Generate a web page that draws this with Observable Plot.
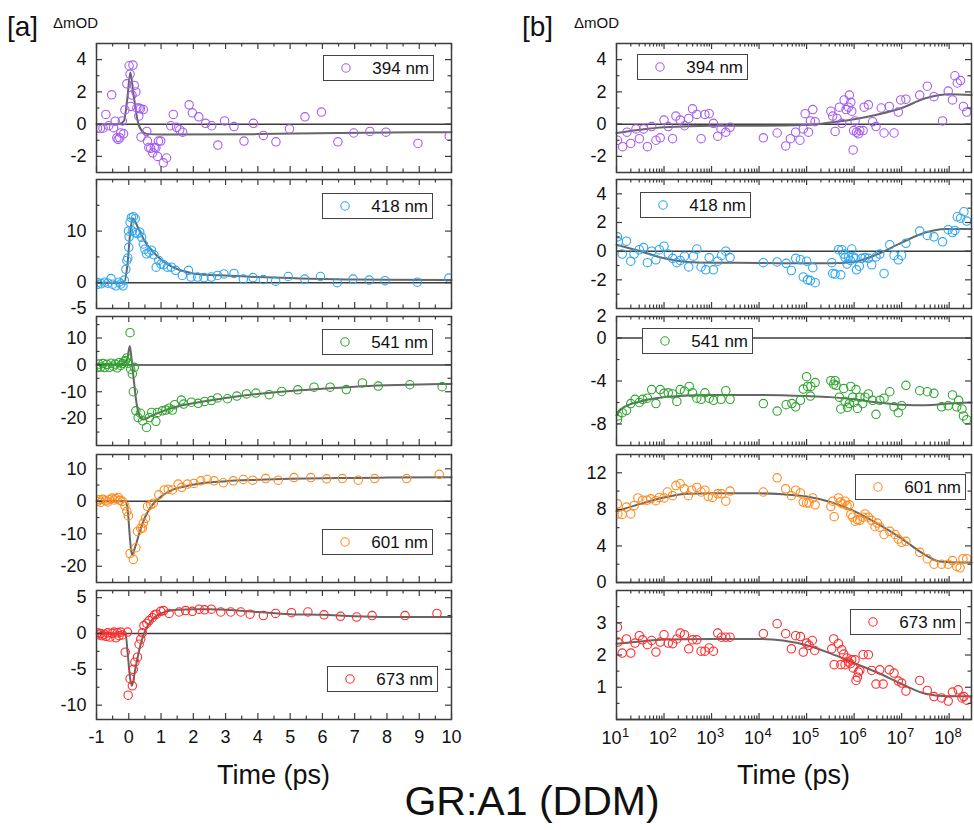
<!DOCTYPE html>
<html><head><meta charset="utf-8">
<script src="https://cdn.jsdelivr.net/npm/d3@7"></script>
<script src="https://cdn.jsdelivr.net/npm/@observablehq/plot@0.6"></script>
<style>
body{margin:0;background:#fff;}
#wrap{position:relative;width:974px;height:830px;font-family:"Liberation Sans",Arial,sans-serif;color:#111;overflow:hidden;background:#fff}
.abs{position:absolute;white-space:nowrap;line-height:1}
.leg{position:absolute;box-sizing:border-box;border:1.5px solid #444;background:#fff;width:111px;height:26px}
.leg span{position:absolute;right:4px;top:50%;transform:translateY(-50%);font-size:17px;line-height:1}
.leg svg{position:absolute;left:16px;top:50%;transform:translateY(-50%)}
svg.panel{position:absolute;overflow:visible}
</style></head><body><div id="wrap"></div><script>
// ---------- data: [a] linear time (ps), [t, ΔmOD] ----------
const a394 = [[-0.97,-0.25],[-0.88,-0.27],[-0.8,-0.25],[-0.71,0.6],[-0.62,-0.1],[-0.53,1.82],[-0.47,-0.22],[-0.42,0.18],[-0.37,-0.85],[-0.33,-0.95],[-0.28,-0.85],[-0.25,-0.55],[-0.2,0.2],[-0.16,-0.6],[-0.12,0.88],[-0.06,2.5],[0.01,3.62],[0.04,3.1],[0.1,1.8],[0.13,3.66],[0.06,1.1],[0.17,2.4],[0.22,2.0],[0.25,1.0],[0.31,0.5],[0.36,0.95],[0.32,1.0],[0.38,-0.8],[0.45,0.9],[0.56,-0.45],[0.58,-1.05],[0.62,-1.45],[0.68,-1.5],[0.74,-1.78],[0.79,-1.45],[0.84,-1.47],[0.89,-2.0],[0.92,-1.05],[0.99,-1.05],[1.07,-2.4],[1.17,-2.1],[1.3,-0.1],[1.38,0.6],[1.48,-0.2],[1.58,-0.35],[1.67,-0.5],[1.87,1.2],[1.97,0.7],[2.17,0.45],[2.38,0.05],[2.57,-0.1],[2.76,-1.3],[2.97,0.2],[3.26,-0.15],[3.57,-1.05],[3.86,0.05],[4.17,-0.7],[4.56,-1.1],[4.98,-0.3],[5.46,0.45],[5.97,0.75],[6.48,-1.1],[6.97,-0.55],[7.47,-0.45],[7.97,-0.5],[8.96,-1.2],[9.93,-0.75]];
const a418 = [[-0.97,0.06],[-0.95,-0.3],[-0.85,-0.2],[-0.75,0.1],[-0.65,-0.1],[-0.55,0.8],[-0.5,-0.3],[-0.4,-0.6],[-0.3,0.1],[-0.25,-0.25],[-0.18,-0.6],[-0.14,0.5],[-0.09,2.6],[-0.06,4.3],[-0.03,4.8],[0.0,6.85],[0.01,8.9],[-0.01,10.0],[0.04,11.7],[0.08,12.6],[0.14,12.8],[0.2,12.4],[0.11,10.0],[0.2,9.7],[0.27,9.5],[0.34,9.8],[0.4,8.8],[0.45,7.5],[0.5,6.5],[0.55,5.6],[0.63,5.9],[0.7,6.3],[0.78,5.4],[0.85,3.0],[0.93,4.3],[1.0,3.6],[1.08,3.5],[1.2,3.0],[1.32,3.0],[1.45,2.4],[1.66,1.4],[1.85,2.4],[1.93,1.1],[2.13,1.1],[2.33,1.0],[2.56,1.1],[2.75,1.4],[2.95,1.7],[3.26,1.8],[3.55,0.7],[3.85,1.0],[4.17,0.6],[4.55,0.3],[4.94,1.2],[5.45,0.7],[5.94,1.2],[6.46,0.0],[6.95,0.7],[7.45,0.5],[7.94,0.4],[8.94,0.1],[9.92,0.9]];
const a541 = [[-0.97,-1.0],[-0.93,0.3],[-0.87,-0.8],[-0.8,0.5],[-0.75,-1.0],[-0.68,0.2],[-0.6,-0.9],[-0.55,0.6],[-0.48,-0.5],[-0.42,0.3],[-0.36,-1.1],[-0.3,0.8],[-0.25,-0.2],[-0.2,0.5],[-0.15,1.2],[-0.1,1.6],[-0.06,2.6],[-0.02,0.6],[0.04,12.0],[0.06,-1.6],[0.11,-3.4],[0.17,-0.9],[0.14,-10.0],[0.22,-17.1],[0.29,-19.6],[0.36,-18.0],[0.43,-20.8],[0.55,-23.3],[0.64,-19.6],[0.71,-17.7],[0.84,-21.0],[0.89,-17.7],[1.04,-17.1],[1.15,-16.8],[1.25,-16.1],[1.35,-16.8],[1.42,-14.8],[1.63,-13.1],[1.7,-14.6],[1.94,-13.9],[2.15,-14.3],[2.35,-13.6],[2.56,-13.3],[2.75,-12.3],[3.06,-12.6],[3.35,-11.6],[3.65,-10.8],[3.94,-10.5],[4.35,-11.1],[4.74,-9.9],[5.24,-9.3],[5.74,-8.3],[6.24,-8.3],[6.74,-9.2],[7.24,-6.7],[7.73,-7.9],[8.71,-7.4],[9.71,-8.1]];
const a601 = [[-0.97,0.0],[-0.92,0.5],[-0.87,-0.3],[-0.8,0.6],[-0.72,0.2],[-0.65,-0.2],[-0.6,0.5],[-0.52,1.0],[-0.45,0.4],[-0.4,0.8],[-0.33,1.2],[-0.27,0.3],[-0.2,0.0],[-0.12,-1.4],[-0.06,-3.1],[-0.01,-4.5],[0.04,-16.1],[0.14,-17.9],[0.22,-14.3],[0.27,-9.3],[0.37,-8.3],[0.42,-8.3],[0.45,-6.7],[0.52,-5.2],[0.58,-1.6],[0.68,-1.1],[0.76,-0.6],[0.93,2.0],[1.1,3.5],[1.22,3.7],[1.35,3.5],[1.53,5.3],[1.64,4.3],[1.82,5.3],[2.02,5.5],[2.23,6.3],[2.43,6.7],[2.64,6.3],[2.93,5.7],[3.24,6.3],[3.55,6.7],[3.84,6.5],[4.24,7.0],[4.63,6.5],[5.12,7.3],[5.64,7.3],[6.13,6.9],[6.62,7.0],[7.11,6.5],[7.62,7.0],[8.61,7.0],[9.62,8.3]];
const a673 = [[-0.97,0.1],[-0.92,-0.2],[-0.87,0.0],[-0.82,-0.3],[-0.76,-0.1],[-0.7,-0.4],[-0.65,0.1],[-0.58,-0.5],[-0.52,0.0],[-0.46,0.2],[-0.4,-0.6],[-0.35,0.1],[-0.3,-0.3],[-0.25,0.2],[-0.2,-0.2],[-0.04,0.2],[-0.11,-2.6],[-0.02,-8.6],[0.04,-6.3],[0.11,-7.3],[0.14,-5.0],[0.19,-4.0],[0.27,-3.3],[0.32,-1.5],[0.37,-0.8],[0.42,0.1],[0.47,1.1],[0.56,1.4],[0.63,1.8],[0.73,2.2],[0.8,2.6],[0.86,2.7],[0.99,3.1],[1.08,3.2],[1.25,2.8],[1.56,3.0],[1.76,3.2],[1.97,3.1],[2.18,3.4],[2.35,3.3],[2.56,3.4],[2.85,3.0],[3.16,3.0],[3.47,3.0],[3.76,2.7],[4.17,2.5],[4.55,2.8],[5.04,2.9],[5.55,3.0],[6.05,2.6],[6.56,2.4],[7.06,2.3],[7.54,2.5],[8.56,2.5],[9.55,2.8]];
// fits [a]
const fa394 = [[-1,0],[-0.3,0],[-0.15,0.2],[-0.05,1.5],[0.05,3.2],[0.15,1.8],[0.3,0.0],[0.45,-0.5],[0.6,-0.62],[1,-0.65],[4,-0.62],[6.5,-0.55],[10,-0.5]];
const fa418 = [[-1,0],[-0.15,0],[-0.05,3],[0.05,10],[0.12,12.5],[0.3,10.5],[0.5,8],[0.75,6],[1,4.5],[1.3,3.2],[1.6,2.4],[2,1.8],[2.5,1.5],[3,1.4],[4,1.1],[5,0.9],[6,0.7],[7,0.6],[8,0.55],[10,0.5]];
const fa541 = [[-1,0],[-0.2,0.3],[-0.05,2],[0.03,7],[0.08,3],[0.15,-5],[0.25,-15],[0.35,-19.5],[0.45,-20.3],[0.7,-19],[1,-17.5],[1.5,-15.5],[2,-14.3],[3,-12.3],[4,-10.8],[5,-9.7],[6,-8.9],[7,-8.1],[8,-7.6],[9,-7.3],[10,-7.1]];
const fa601 = [[-1,0],[-0.1,0],[-0.03,-3],[0.05,-13],[0.1,-16.5],[0.2,-14],[0.35,-9],[0.5,-5],[0.7,-1.5],[1,1.5],[1.3,3.3],[1.7,4.5],[2.2,5.5],[3,6.2],[4,6.6],[5,6.9],[6,7.1],[7,7.2],[8,7.3],[10,7.4]];
const fa673 = [[-1,0],[-0.1,0],[-0.03,-3],[0.05,-6.5],[0.1,-7.3],[0.2,-5],[0.35,-1.8],[0.5,0.3],[0.7,1.8],[1,2.8],[1.5,3.3],[2,3.4],[2.5,3.4],[3,3.3],[4,3.0],[5,2.7],[6,2.6],[7,2.4],[8,2.3],[10,2.3]];

// ---------- data: [b] log time, [log10(t/ps), ΔmOD] ----------
const b394 = [[1.02,-1.0],[1.13,-1.4],[1.22,-0.5],[1.3,-1.2],[1.41,-0.3],[1.48,-0.9],[1.57,-0.3],[1.65,-1.4],[1.74,-0.15],[1.83,-1.0],[1.92,-0.85],[2.0,0.25],[2.09,-0.15],[2.18,-0.9],[2.25,0.5],[2.34,0.25],[2.43,-0.1],[2.52,0.35],[2.6,0.95],[2.69,0.6],[2.78,-0.9],[2.86,0.6],[2.95,0.65],[3.04,0.05],[3.13,-0.75],[3.2,-0.3],[3.3,-0.5],[3.39,-0.2],[4.09,-0.85],[4.38,-0.55],[4.56,-1.35],[4.66,-0.9],[4.77,-0.5],[4.86,-1.0],[4.93,-0.3],[4.97,0.65],[5.04,-0.5],[5.08,0.2],[5.13,0.9],[5.18,0.15],[5.51,0.8],[5.55,0.5],[5.6,-0.45],[5.64,0.35],[5.69,1.05],[5.74,0.05],[5.79,1.5],[5.83,0.9],[5.88,1.05],[5.9,1.8],[5.93,1.35],[5.95,0.8],[5.98,-1.6],[5.99,-0.4],[6.02,0.2],[6.05,-0.5],[6.09,-0.6],[6.12,-0.4],[6.19,-0.4],[6.21,1.05],[6.3,1.2],[6.39,0.15],[6.46,-0.15],[6.57,1.0],[6.63,-0.55],[6.74,1.1],[6.84,-0.55],[6.93,0.75],[6.98,1.5],[7.09,1.55],[7.38,1.8],[7.54,2.35],[7.68,1.7],[7.86,0.2],[7.98,2.05],[8.07,1.5],[8.12,3.0],[8.17,2.55],[8.24,2.7],[8.3,1.1],[8.37,0.75]];
const b418 = [[1.02,1.0],[1.04,0.65],[1.12,-0.2],[1.21,0.7],[1.3,-0.7],[1.37,-0.2],[1.48,0.1],[1.57,0.25],[1.65,-0.8],[1.74,0],[1.83,-0.6],[1.9,0.1],[2.0,0.35],[2.09,-0.2],[2.18,-0.5],[2.27,-0.8],[2.34,-0.65],[2.43,-0.35],[2.52,-1.1],[2.62,-0.35],[2.69,0.15],[2.78,-1.1],[2.88,-1.3],[2.95,-0.45],[3.04,-1.3],[3.13,-0.7],[3.21,-0.3],[3.3,0],[3.39,-0.45],[4.09,-0.8],[4.38,-0.75],[4.57,-0.85],[4.68,-1.35],[4.77,-0.5],[4.87,-0.6],[4.93,-1.8],[5.0,-0.7],[5.02,-2.0],[5.08,-2.05],[5.13,-1.15],[5.18,-2.2],[5.53,-0.8],[5.55,-1.55],[5.6,-1.6],[5.67,0.1],[5.72,-1.65],[5.74,0.1],[5.78,-0.2],[5.81,-0.45],[5.85,-0.9],[5.88,-0.4],[5.92,-0.65],[5.95,0.15],[5.98,-0.4],[6.02,-0.5],[6.05,-1.3],[6.11,-1.05],[6.16,-0.5],[6.23,-0.45],[6.3,-0.5],[6.37,-0.95],[6.46,-0.4],[6.54,-0.2],[6.63,-1.55],[6.75,0.45],[6.84,-0.3],[6.93,-0.6],[7.0,-0.3],[7.09,0.55],[7.38,1.4],[7.54,1.1],[7.68,1.0],[7.86,0.65],[7.98,1.5],[8.07,1.3],[8.12,1.45],[8.17,2.4],[8.24,2.3],[8.31,2.75],[8.37,2.1]];
const b541 = [[1.02,-7.6],[1.03,-7.25],[1.12,-6.95],[1.21,-6.75],[1.3,-6.1],[1.39,-5.7],[1.48,-6.0],[1.55,-5.7],[1.65,-5.6],[1.74,-4.8],[1.83,-6.1],[1.92,-4.8],[2.0,-5.15],[2.09,-5.1],[2.18,-5.2],[2.27,-5.9],[2.34,-4.8],[2.43,-4.95],[2.53,-4.5],[2.6,-5.1],[2.69,-5.6],[2.78,-5.7],[2.86,-5.1],[2.95,-5.6],[3.04,-5.8],[3.2,-5.7],[3.3,-4.9],[3.39,-5.7],[4.09,-6.1],[4.38,-6.8],[4.57,-6.2],[4.69,-6.1],[4.77,-6.4],[4.87,-5.8],[4.93,-4.75],[5.0,-3.6],[5.02,-4.5],[5.08,-5.4],[5.09,-4.5],[5.18,-4.15],[5.51,-3.97],[5.57,-4.3],[5.6,-3.97],[5.62,-4.4],[5.69,-5.5],[5.72,-6.6],[5.78,-4.7],[5.81,-5.9],[5.86,-6.45],[5.9,-6.1],[5.93,-4.5],[5.97,-5.5],[6.0,-6.0],[6.04,-4.8],[6.07,-6.55],[6.12,-5.5],[6.18,-6.1],[6.23,-5.5],[6.3,-5.2],[6.39,-5.8],[6.46,-7.1],[6.54,-5.8],[6.63,-5.6],[6.75,-5.0],[6.84,-6.4],[6.93,-6.95],[7.0,-6.3],[7.09,-4.4],[7.38,-4.9],[7.54,-5.0],[7.68,-5.15],[7.84,-6.4],[7.98,-6.3],[8.07,-5.3],[8.16,-6.4],[8.2,-5.8],[8.27,-6.6],[8.3,-7.25],[8.37,-7.6]];
const b601 = [[1.02,8.6],[1.03,7.5],[1.12,7.45],[1.21,8.25],[1.3,7.5],[1.37,8.4],[1.45,9.25],[1.55,9.0],[1.64,9.0],[1.72,9.15],[1.83,8.95],[1.9,9.3],[2.0,9.25],[2.07,9.9],[2.18,9.5],[2.25,10.6],[2.34,10.8],[2.43,10.25],[2.51,9.5],[2.58,10.1],[2.69,10.4],[2.78,9.9],[2.86,10.1],[2.93,9.4],[3.02,9.3],[3.13,9.7],[3.21,9.7],[3.3,8.9],[3.39,10.0],[4.09,9.9],[4.38,11.45],[4.56,10.25],[4.68,9.5],[4.77,10.1],[4.87,9.8],[4.93,8.8],[5.0,8.7],[5.05,8.7],[5.13,9.25],[5.18,8.5],[5.51,8.3],[5.55,8.9],[5.58,7.2],[5.67,9.25],[5.71,8.8],[5.76,8.6],[5.81,8.9],[5.85,8.4],[5.9,8.5],[5.93,7.45],[5.97,7.15],[6.02,6.7],[6.07,6.85],[6.12,6.8],[6.19,7.15],[6.23,7.5],[6.3,7.15],[6.37,6.8],[6.44,6.1],[6.49,6.5],[6.54,6.05],[6.63,5.25],[6.75,5.6],[6.86,5.25],[6.93,4.75],[7.0,4.4],[7.09,4.5],[7.38,3.3],[7.54,2.6],[7.68,2.0],[7.84,2.0],[7.98,2.0],[8.07,2.4],[8.16,1.75],[8.23,1.6],[8.29,2.6],[8.37,2.6]];
const b673 = [[1.02,2.86],[1.03,2.4],[1.12,2.06],[1.21,2.5],[1.3,2.06],[1.39,2.37],[1.48,2.6],[1.55,2.47],[1.65,2.32],[1.74,2.45],[1.83,2.09],[1.92,2.4],[2.0,2.63],[2.09,2.37],[2.18,2.35],[2.27,2.5],[2.34,2.68],[2.43,2.63],[2.52,2.19],[2.6,2.47],[2.69,2.47],[2.78,2.12],[2.86,2.12],[2.95,2.22],[3.04,2.12],[3.13,2.68],[3.21,2.55],[3.3,2.55],[3.39,2.55],[4.09,2.66],[4.38,2.97],[4.56,2.66],[4.68,2.19],[4.77,2.6],[4.87,2.57],[4.93,2.09],[5.0,2.37],[5.05,2.3],[5.12,2.45],[5.17,2.14],[5.53,2.19],[5.57,2.5],[5.58,1.7],[5.67,2.35],[5.72,1.7],[5.74,2.16],[5.78,2.03],[5.81,1.7],[5.85,1.91],[5.88,1.78],[5.92,1.73],[5.95,1.85],[5.98,1.6],[6.02,1.85],[6.04,1.21],[6.07,1.31],[6.09,1.47],[6.12,1.52],[6.19,2.01],[6.3,2.01],[6.37,1.52],[6.46,1.1],[6.54,1.54],[6.61,1.1],[6.74,1.54],[6.84,1.44],[6.93,1.19],[7.0,1.13],[7.09,0.88],[7.38,1.21],[7.54,0.9],[7.68,0.71],[7.84,0.67],[7.98,0.57],[8.07,0.85],[8.19,0.92],[8.27,0.67],[8.31,0.71],[8.37,0.6]];
// fits [b]
const fb394 = [[1,-0.55],[1.5,-0.35],[2,-0.2],[3,-0.1],[4,-0.1],[5,-0.05],[5.5,0.1],[6,0.3],[6.5,0.6],[7,1.0],[7.5,1.6],[8,1.85],[8.47,1.8]];
const fb418 = [[1,0.45],[1.5,0],[2,-0.5],[2.5,-0.75],[3,-0.8],[4,-0.82],[5,-0.85],[5.5,-0.85],[6,-0.75],[6.5,-0.2],[7,0.6],[7.5,1.3],[7.9,1.55],[8.47,1.55]];
const fb541 = [[1,-7.2],[1.1,-6.6],[1.5,-5.9],[2,-5.5],[2.5,-5.35],[3,-5.3],[4,-5.3],[5,-5.4],[5.5,-5.5],[6,-5.7],[6.5,-6.0],[7,-6.2],[7.5,-6.25],[8,-6.1],[8.47,-6.0]];
const fb601 = [[1,7.8],[1.5,8.6],[2,9.3],[2.5,9.7],[3,9.75],[4,9.75],[4.5,9.65],[5,9.4],[5.5,8.8],[6,7.8],[6.5,6.4],[7,4.8],[7.5,3.0],[7.8,2.3],[8.2,2.2],[8.47,2.2]];
const fb673 = [[1,2.35],[1.5,2.42],[2,2.48],[3,2.5],[4,2.5],[4.5,2.45],[5,2.3],[5.5,2.05],[6,1.75],[6.5,1.45],[7,1.1],[7.5,0.8],[8,0.72],[8.47,0.72]];

// ---------- labels / ticks ----------
const wavelengths = ["394 nm","418 nm","541 nm","601 nm","673 nm"];
const colors = ["#a55cf2","#2ea6f0","#2fa52f","#ff8a1c","#ff2b2b"];
const aTicks = [-1,0,1,2,3,4,5,6,7,8,9,10];
const aMinor = [-0.5,0.5,1.5,2.5,3.5,4.5,5.5,6.5,7.5,8.5,9.5];
const bTicks = [1e1,1e2,1e3,1e4,1e5,1e6,1e7,1e8];
const bMinor = bTicks.flatMap(d => [2,3,4,5,6,7,8,9].map(m => m*d)).filter(v => v < 2.95e8);
const aY = [
  {domain:[-3,5], labels:[-2,0,2,4], major:[-2,0,2,4], minor:[-1,1,3]},
  {domain:[-5,20], labels:[-5,0,10], major:[0,10], minor:[5,15]},
  {domain:[-30,18], labels:[-20,-10,0,10], major:[-20,-10,0,10], minor:[-25,-15,-5,5,15]},
  {domain:[-25,14.4], labels:[-20,-10,0,10], major:[-20,-10,0,10], minor:[-15,-5,5]},
  {domain:[-12,6], labels:[-10,-5,0,5], major:[-10,-5,0,5], minor:[-7.5,-2.5,2.5]}
];
const bY = [
  {domain:[-3,5], labels:[-2,0,2,4], major:[-2,0,2,4], minor:[-1,1,3]},
  {domain:[-4,5], labels:[-2,0,2,4], major:[-2,0,2,4], minor:[-3,-1,1,3]},
  {domain:[-10,2], labels:[-8,-4,0,2], major:[-8,-4,0], minor:[-6,-2]},
  {domain:[0,14], labels:[0,4,8,12], major:[4,8,12], minor:[2,6,10]},
  {domain:[0,4], labels:[1,2,3], major:[1,2,3], minor:[0.5,1.5,2.5,3.5]}
];
const aData = [a394,a418,a541,a601,a673], aFit = [fa394,fa418,fa541,fa601,fa673];
const bData = [b394,b418,b541,b601,b673], bFit = [fb394,fb418,fb541,fb601,fb673];

// ---------- layout ----------
const wrap = document.getElementById("wrap");
const COLS = {a:{x0:96,w:355}, b:{x0:616,w:355}};
const ROWS = [[43,129],[179,129],[316,129],[454,128],[590,129]];
const LEG = {a:[[323,55],[322,193],[322,329],[322,529],[327,666]], b:[[637,54],[640,192],[642,328],[855,474],[850,609]]};
const INK = "#3c3c3c", FONT = "'Liberation Sans', Arial, sans-serif";
const fmt = d => String(d);

function panel(col, i) {
  const {x0, w} = COLS[col];
  const [y0, h] = ROWS[i];
  const isB = col === "b";
  const bottom = i === 4;
  const ml = 55, mr = 8, mt = 4, mb = bottom ? 40 : 4;
  const cfg = isB ? bY[i] : aY[i];
  const data = isB ? bData[i] : aData[i];
  const fit = isB ? bFit[i] : aFit[i];
  const X = isB ? (d => 10 ** d[0]) : (d => d[0]);
  const xMaj = isB ? bTicks : aTicks, xMin = isB ? bMinor : aMinor;
  const tk = {stroke: INK, strokeWidth: 1.2};
  const marks = [
    Plot.ruleY([0], {stroke: INK, strokeWidth: 1.5}),
    Plot.line(fit, {x: X, y: d => d[1], stroke: "#666", strokeWidth: 2, curve: "monotone-x"}),
    Plot.dot(data, {x: X, y: d => d[1], r: 4.2, stroke: colors[i], strokeWidth: 1.1, fill: "none", clip: true}),
    Plot.frame({stroke: INK, strokeWidth: 1.5}),
    Plot.tickY(cfg.major, {y: d => d, insetRight: w - 6, ...tk}),
    Plot.tickY(cfg.major, {y: d => d, insetLeft: w - 6, ...tk}),
    Plot.tickY(cfg.minor, {y: d => d, insetRight: w - 3.5, ...tk}),
    Plot.tickY(cfg.minor, {y: d => d, insetLeft: w - 3.5, ...tk}),
    Plot.tickX(xMaj, {x: d => d, insetBottom: h - 6, ...tk}),
    Plot.tickX(xMaj, {x: d => d, insetTop: h - 6, ...tk}),
    Plot.tickX(xMin, {x: d => d, insetBottom: h - 3.5, ...tk}),
    Plot.tickX(xMin, {x: d => d, insetTop: h - 3.5, ...tk}),
    Plot.axisY(cfg.labels, {tickSize: 0, tickPadding: 10, fontSize: 18, tickFormat: fmt, label: null})
  ];
  if (bottom) {
    if (isB) {
      marks.push(Plot.axisX(bTicks, {tickSize: 0, tickPadding: 12, fontSize: 18, tickFormat: () => "10", dx: -5, label: null}));
      marks.push(Plot.axisX(bTicks, {tickSize: 0, tickPadding: 8, fontSize: 13, tickFormat: d => String(Math.round(Math.log10(d))), dx: 9, label: null}));
    } else {
      marks.push(Plot.axisX(aTicks, {tickSize: 0, tickPadding: 11, fontSize: 18, tickFormat: fmt, label: null}));
    }
  }
  const svg = Plot.plot({
    width: w + ml + mr, height: h + mt + mb,
    marginLeft: ml, marginRight: mr, marginTop: mt, marginBottom: mb,
    x: isB ? {type: "log", domain: [10, 2.95e8], axis: bottom ? undefined : null}
           : {type: "linear", domain: [-1, 10], axis: bottom ? undefined : null},
    y: {domain: cfg.domain},
    style: {fontFamily: FONT, color: "#111", background: "transparent", overflow: "visible"},
    marks
  });
  svg.classList.add("panel");
  svg.style.left = (x0 - ml) + "px";
  svg.style.top = (y0 - mt) + "px";
  wrap.appendChild(svg);
  // legend
  const [lx, ly] = LEG[col][i];
  const lg = document.createElement("div");
  lg.className = "leg";
  lg.style.left = lx + "px"; lg.style.top = ly + "px";
  lg.innerHTML = `<svg width="12" height="12"><circle cx="6" cy="6" r="4.2" fill="none" stroke="${colors[i]}" stroke-width="1.1"/></svg><span>${wavelengths[i]}</span>`;
  wrap.appendChild(lg);
}
for (const c of ["a","b"]) for (let i = 0; i < 5; i++) panel(c, i);

function txt(s, x, y, size, center) {
  const d = document.createElement("div");
  d.className = "abs";
  d.textContent = s;
  d.style.fontSize = size + "px";
  d.style.left = x + "px";
  d.style.top = (y - 0.846 * size) + "px";
  if (center) d.style.transform = "translateX(-50%)";
  wrap.appendChild(d);
}
txt("[a]", 7, 37, 28);
txt("ΔmOD", 53, 28, 15);
txt("[b]", 522, 37, 28);
txt("ΔmOD", 574, 28, 15);
txt("Time (ps)", 273.5, 785, 27, true);
txt("Time (ps)", 793.5, 785, 27, true);
txt("GR:A1 (DDM)", 532, 816, 41, true);
</script></body></html>
